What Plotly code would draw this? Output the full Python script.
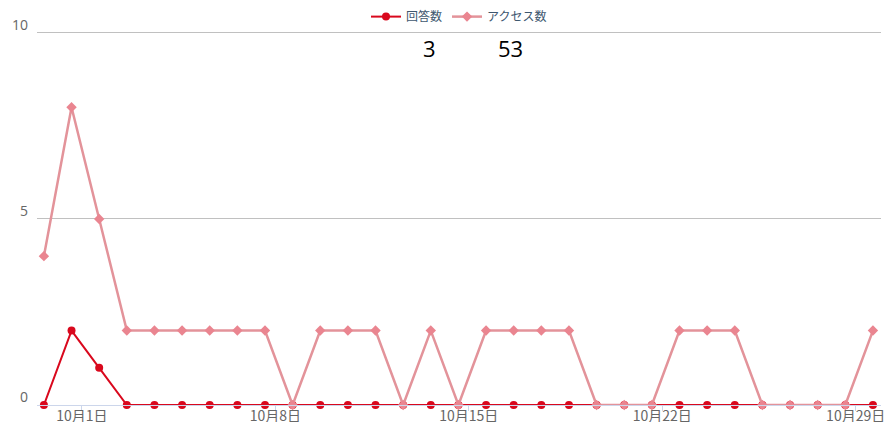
import plotly.graph_objects as go
import pandas as pd

dates = pd.date_range("2023-09-30", "2023-10-30", freq="D")
answers = [0, 2, 1, 0, 0, 0, 0, 0, 0, 0, 0, 0, 0, 0, 0, 0,
           0, 0, 0, 0, 0, 0, 0, 0, 0, 0, 0, 0, 0, 0, 0]
access = [4, 8, 5, 2, 2, 2, 2, 2, 2, 0, 2, 2, 2, 0, 2, 0,
          2, 2, 2, 2, 0, 0, 0, 2, 2, 2, 0, 0, 0, 0, 2]
tick_dates = ["2023-10-01 09:00", "2023-10-08 09:00", "2023-10-15 09:00",
              "2023-10-22 09:00", "2023-10-29 09:00"]
tick_text = ["10月1日", "10月8日", "10月15日", "10月22日", "10月29日"]
series_names = ["回答数", "アクセス数"]

RED = "#d9081d"
PINK_LINE = "#e3939a"
PINK = "#ea8590"
FONT = "Noto Sans CJK JP"

fig = go.Figure()
fig.add_trace(go.Scatter(
    x=dates, y=answers, name=series_names[0], mode="lines+markers",
    line=dict(color=RED, width=2),
    marker=dict(symbol="circle", size=8, color=RED),
    cliponaxis=False,
))
fig.add_trace(go.Scatter(
    x=dates, y=access, name=series_names[1], mode="lines+markers",
    line=dict(color=PINK_LINE, width=2.5),
    marker=dict(symbol="diamond", size=8, color=PINK),
    cliponaxis=False,
))

totals = [sum(answers), sum(access)]
for xpos, val in zip([0.4645, 0.5616], totals):
    fig.add_annotation(x=xpos, y=0.9597 * 10 / 10.05, xref="paper", yref="paper",
                       xanchor="center", yanchor="middle",
                       text=str(val), showarrow=False,
                       font=dict(size=22, color="#000000", family="Open Sans"))

fig.update_layout(
    width=884, height=422,
    margin=dict(l=37, r=3, t=31, b=17, autoexpand=False),
    paper_bgcolor="white", plot_bgcolor="white",
    font=dict(family=FONT, color="#666666", size=13),
    showlegend=True,
    legend=dict(orientation="h", x=0.5, xanchor="center", y=0.995,
                yref="container", yanchor="top",
                font=dict(size=12, color="#3e576f", family=FONT),
                itemwidth=30, tracegroupgap=0),
    xaxis=dict(
        range=["2023-09-29 18:00", "2023-10-30 07:00"],
        tickvals=tick_dates, ticktext=tick_text,
        showgrid=False, zeroline=False,
        showline=True, linecolor="#ccd6eb", linewidth=1,
        ticks="outside", ticklen=5, tickcolor="#ccd6eb",
        ticklabelstandoff=-7, ticklabeloverflow="allow",
        tickfont=dict(size=14, color="#666666", family=FONT),
    ),
    yaxis=dict(
        range=[0, 10.05], tickvals=[0, 5, 10],
        showgrid=True, gridcolor="#c0c0c0", gridwidth=1,
        zeroline=False, showline=False,
        tickfont=dict(size=14, color="#666666", family="Open Sans"),
        ticklabelshift=-8, ticklabelstandoff=8,
    ),
)

fig.write_html("out.html",
               config={"displayModeBar": False},
               post_script="document.body.style.margin='0';document.body.style.overflow='hidden';")
